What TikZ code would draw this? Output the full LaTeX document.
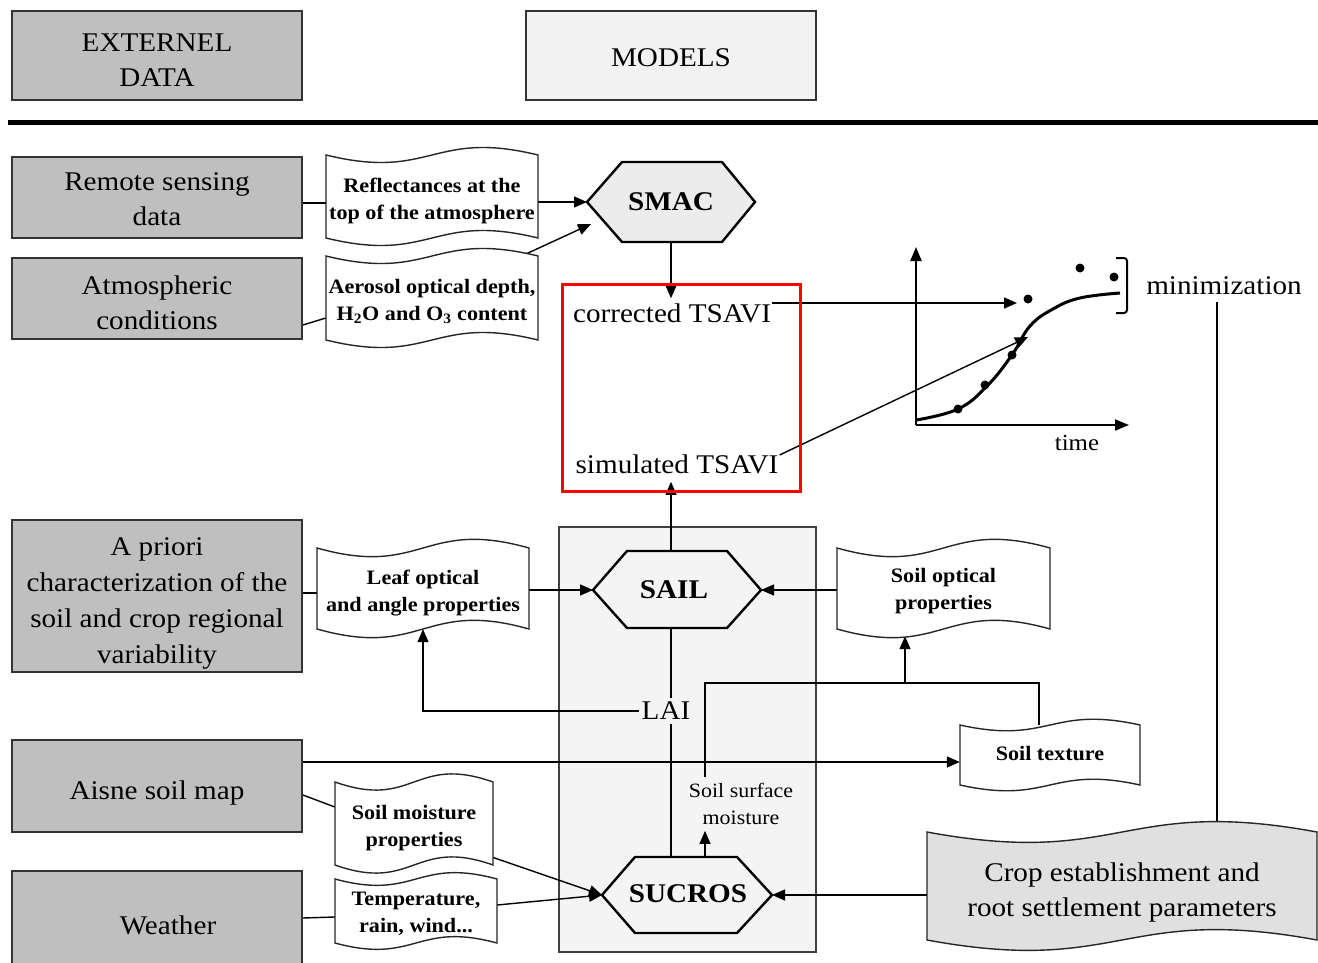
\documentclass[tikz,border=0pt]{standalone}
\usepackage{fontspec}
\setmainfont{Liberation Serif}[FakeStretch=1.08]
\usetikzlibrary{arrows.meta,calc}
\pgfdeclarelayer{bgA}
\pgfdeclarelayer{bgB}
\pgfsetlayers{bgA,bgB,main}
% #1 draw opts, #2 text node opts, #3 name, #4 x1, #5 y1, #6 x2, #7 y2, #8 k, #9 text
\newcommand\tapeshape[9]{%
  \draw[tapeline,#1] (#4,#5) .. controls ({(#4+#6)/2},{#5+#8}) and ({(#4+#6)/2},{#5-#8}) .. (#6,#5)
     -- (#6,#7) .. controls ({(#4+#6)/2},{#7-#8}) and ({(#4+#6)/2},{#7+#8}) .. (#4,#7) -- cycle;
  \node[inner sep=0pt,minimum width={#6-#4},minimum height={#7-#5}] (#3) at ({(#4+#6)/2},{(#5+#7)/2}) {};
  \node[tapetext,#2] (#3-t) at (#3.center) {#9};
}
\begin{document}
\begin{tikzpicture}[x=1pt,y=-1pt,
  box/.style={draw=black!80, line width=1.8pt, fill=gray!50, minimum width=290pt, inner sep=0pt},
  boxtext/.style={inner sep=0pt, align=center, font=\fontsize{27}{35}\selectfont},
  ln/.style={line width=1.4pt},
  arr/.style={line width=1.4pt, -{Triangle[length=13pt,width=11pt]}},
  axis/.style={line width=2pt, -{Triangle[length=14pt,width=11pt]}},
  hex/.style={draw=black, line width=2.4pt, line join=miter},
  hext/.style={font=\bfseries\fontsize{27}{30}\selectfont, inner sep=0pt},
  lbl/.style={font=\fontsize{27}{35}\selectfont, inner xsep=1pt, inner ysep=1pt},
  tapeline/.style={draw=black!85, line width=1.4pt, fill=white},
  tapetext/.style={inner sep=0pt, align=center, font=\bfseries\fontsize{20.5}{27}\selectfont},
]
\useasboundingbox (0,0) rectangle (1318,963);

% header
\node[box, minimum height=89pt] (ext) at (157,55.5) {};
\node[boxtext, yshift=-5pt] (ext-t) at (ext.center) {EXTERNEL\\DATA};
\node[box, minimum height=89pt, fill=gray!10] (models) at (671,55.5) {};
\node[boxtext, yshift=-2pt] (models-t) at (models.center) {MODELS};
\draw[line width=5pt] (8,123) -- (1318,123);

% external data boxes
\node[box, minimum height=81pt] (rs) at (157,197.5) {};
\node[boxtext, yshift=-2pt] (rs-t) at (rs.center) {Remote sensing\\data};
\node[box, minimum height=81pt] (atm) at (157,298.5) {};
\node[boxtext, yshift=-4.5pt] (atm-t) at (atm.center) {Atmospheric\\conditions};
\node[box, minimum height=152pt] (apriori) at (157,596) {};
\node[boxtext, yshift=-7pt, font=\fontsize{27}{36}\selectfont] (apriori-t) at (apriori.center) {A priori\\characterization of the\\soil and crop regional\\variability};
\node[box, minimum height=92pt] (aisne) at (157,786) {};
\node[boxtext, yshift=-7pt] (aisne-t) at (aisne.center) {Aisne soil map};
\node[box, minimum height=99pt] (weather) at (157,920.5) {};
\node[boxtext, yshift=-5pt, xshift=11pt] (weather-t) at (weather.center) {Weather};

% models background
\begin{pgfonlayer}{bgA}
\draw[draw=black!75, line width=1.5pt, fill=gray!9] (559,527) rectangle (816,952);
\end{pgfonlayer}

% tapes
\tapeshape{}{yshift=-4pt}{refl}{326}{155}{538}{238}{26}{Reflectances at the\\top of the atmosphere}
\tapeshape{}{yshift=-3.5pt}{aer}{326}{256}{538}{340}{26}{Aerosol optical depth,\\H\textsubscript{2}O and O\textsubscript{3} content}
\tapeshape{}{yshift=-4.5pt}{leaf}{317}{548}{529}{629}{30}{Leaf optical\\and angle properties}
\tapeshape{}{yshift=-3pt}{soilopt}{837}{548}{1050}{629}{30}{Soil optical\\properties}
\tapeshape{}{yshift=1pt}{texture}{960}{725}{1140}{785}{20}{Soil texture}
\tapeshape{}{yshift=-4.5pt}{soilmoist}{335}{782}{493}{865}{28}{Soil moisture\\properties}
\tapeshape{}{yshift=-3pt}{temp}{335}{879}{497}{943}{22}{Temperature,\\rain, wind...}
\tapeshape{fill=black!12}{yshift=-6pt,font=\fontsize{27}{35}\selectfont}{crop}{927}{832}{1317}{940}{36}{Crop establishment and\\root settlement parameters}

% hexagons
\draw[hex, fill=gray!15] (587,202) -- (622,162) -- (722,162) -- (755,202) -- (722,242) -- (622,242) -- cycle;
\node[hext] (smac) at (671,202) {SMAC};
\coordinate (smacW) at (587,202);
\coordinate (smacS) at (671,242);
\coordinate (smacIn) at (591,224);

\draw[hex, fill=gray!9] (593,590) -- (627,551) -- (727,551) -- (761,590) -- (727,628) -- (627,628) -- cycle;
\node[hext] (sail) at (674,590) {SAIL};
\coordinate (sailW) at (593,590);
\coordinate (sailE) at (761,590);
\coordinate (sailN) at (671,551);
\coordinate (sailS) at (671,628);

\draw[hex, fill=gray!9] (602,895) -- (635,857) -- (737,857) -- (772,895) -- (737,933) -- (635,933) -- cycle;
\node[hext] (sucros) at (688,894) {SUCROS};
\coordinate (sucW) at (602,895);
\coordinate (sucE) at (772,895);
\coordinate (sucN) at (671,857);
\coordinate (sucN2) at (705,857);

% labels
\node[lbl, inner ysep=5pt] (corr) at (672,313) {corrected TSAVI};
\node[lbl, inner ysep=8pt] (sim) at (677,464) {simulated TSAVI};
\node[lbl, inner ysep=4pt, inner xsep=3pt] (lai) at (666,711) {LAI};
\node[align=center, font=\fontsize{20.3}{27}\selectfont, inner ysep=6pt] (ssm) at (741,804) {Soil surface\\moisture};
\node[lbl] (min) at (1224,286) {minimization};
\node[font=\fontsize{23}{27}\selectfont] (time) at (1077,443) {time};

\coordinate (jn) at (905,683);
\coordinate (tx) at ([xshift=-11pt]texture.north);
\coordinate (gIn1) at (1017,303);
\coordinate (gIn2) at (1028,337);
\coordinate (aA) at ([yshift=24pt]aisne.east);
\coordinate (mn) at ([xshift=-7pt,yshift=-6pt]min.south);

% graph
\coordinate (O) at (916,425);
\coordinate (yT) at (916,247);
\coordinate (xT) at (1129,425);
\draw[axis] (O) -- (yT);
\draw[axis] (O) -- (xT);
\draw[line width=3pt] plot[smooth,tension=0.7] coordinates {(916,420) (958,409) (987,386) (1012,355) (1030,326) (1053,309) (1080,298) (1120,293)};
\foreach \p in {(958,409),(985,385),(1012,355),(1028,299),(1080,268),(1114,277)}
  \fill \p circle[radius=4.5pt];
\draw[line width=2pt, rounded corners=3pt] (1116,258) -- (1127,258) -- (1127,313) -- (1116,313);

% connectors
\begin{pgfonlayer}{bgB}
\draw[ln] ([yshift=-5.5pt]rs.east) -- ([yshift=-6.5pt]refl.west);
\draw[arr] ([yshift=-5.5pt]refl.east) -- (smacW);
\draw[ln] ([yshift=-26.5pt]atm.east) -- ([yshift=-20pt]aer.west);
\draw[arr] ([xshift=90pt]aer.north) -- (smacIn);
\draw[arr] (smacS) -- (smacS |- corr.north);
\draw[arr] ([yshift=10pt]corr.east) -- (gIn1);
\draw[arr] ([yshift=9pt]sim.east) -- (gIn2);
\draw[arr] (sailN) -- (sailN |- sim.south);
\draw[arr] ([yshift=-1.5pt]leaf.east) -- (sailW);
\draw[arr] ([yshift=-1.5pt]soilopt.west) -- (sailE);
\draw[ln] ([yshift=3pt]apriori.east) -- ([yshift=-4.5pt]leaf.west);
\draw[ln] (sailS) -- (sailS |- lai.north);
\draw[ln] (sailS |- lai.south) -- (sucN);
\draw[arr] (lai.west) -| (leaf.south);
\draw[arr] (sucN2) -- (sucN2 |- ssm.south);
\draw[ln] (sucN2 |- ssm.north) -- (sucN2 |- jn) -- (jn -| tx) -- (tx);
\draw[arr] (jn) -- ($(jn |- soilopt.south)+(0,7)$);
\draw[arr] (aA) -- (aA -| texture.west);
\draw[ln] ([yshift=-9pt]aisne.east) -- ([yshift=16.5pt]soilmoist.west);
\draw[arr] ([yshift=-34pt]soilmoist.east) -- (sucW);
\draw[arr] ([yshift=6pt]temp.east) -- (sucW);
\draw[ln] ([yshift=2.5pt]weather.east) -- ([yshift=-6pt]temp.west);
\draw[arr] ([yshift=-9pt]crop.west) -- (sucE);
\draw[ln] (mn) -- (mn |- crop.north);
\end{pgfonlayer}

% highlight
\draw[red, line width=3pt] (562,284) rectangle (800,491);
\end{tikzpicture}
\end{document}
